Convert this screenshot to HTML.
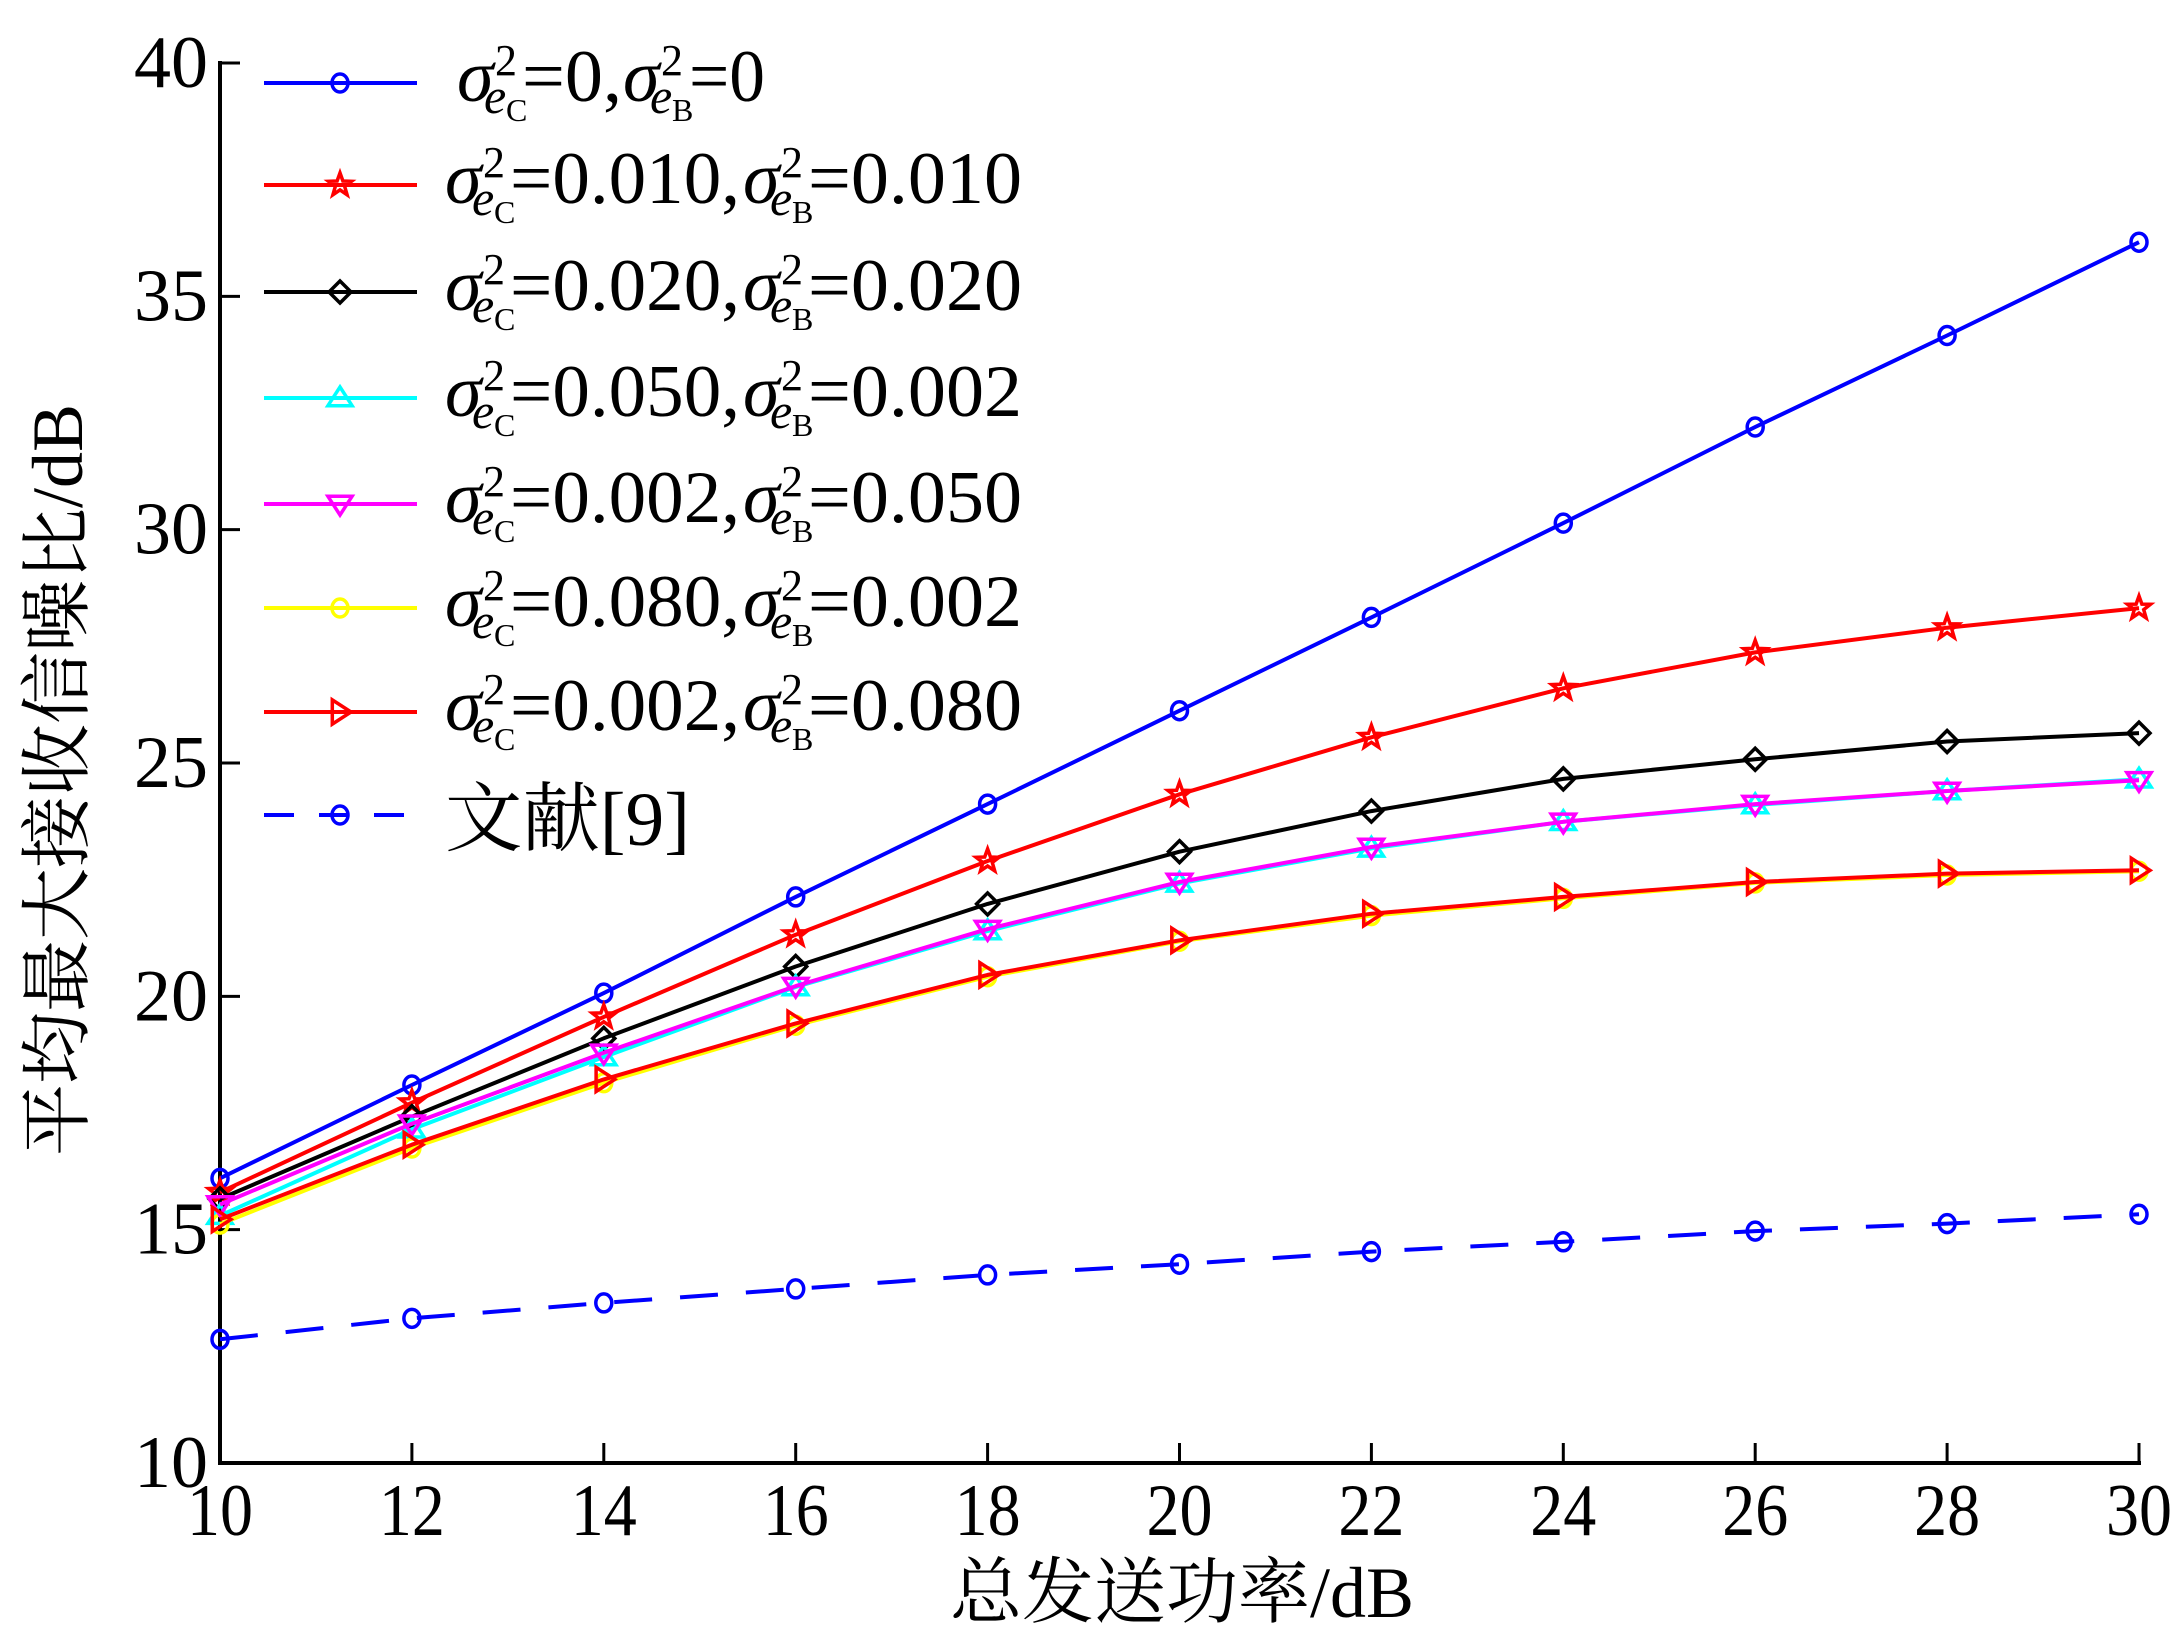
<!DOCTYPE html>
<html><head><meta charset="utf-8"><style>
html,body{margin:0;padding:0;background:#fff;}
svg{display:block;}
</style></head><body>
<svg id="chart" width="2180" height="1639" viewBox="0 0 2180 1639" xmlns="http://www.w3.org/2000/svg" font-family="'Liberation Serif', 'Times New Roman', 'Noto Serif CJK SC', serif"></svg>
<script>
const xValues=[10,12,14,16,18,20,22,24,26,28,30];
const xTicks=[10,12,14,16,18,20,22,24,26,28,30];
const yTicks=[10,15,20,25,30,35,40];
const sBlue=[16.1,18.1,20.07,22.13,24.12,26.12,28.12,30.14,32.2,34.16,36.16];
const sRedStar=[15.8,17.72,19.56,21.32,22.9,24.33,25.55,26.6,27.37,27.9,28.32];
const sBlack=[15.66,17.42,19.1,20.64,21.98,23.1,23.97,24.66,25.08,25.46,25.64];
const sCyan=[15.3,17.15,18.7,20.2,21.4,22.42,23.17,23.74,24.1,24.4,24.65];
const sMagenta=[15.54,17.27,18.79,20.22,21.44,22.45,23.2,23.74,24.12,24.4,24.63];
const sYellow=[15.12,16.75,18.15,19.38,20.42,21.18,21.73,22.1,22.43,22.6,22.68];
const sRedTri=[15.22,16.82,18.22,19.42,20.46,21.2,21.77,22.13,22.45,22.63,22.7];
const sRef=[12.65,13.1,13.43,13.73,14.03,14.26,14.53,14.74,14.97,15.13,15.33];

const NS='http://www.w3.org/2000/svg';
const svg=document.getElementById('chart');
const X0=220,X1=2139,Y0=1463,Y1=63;
const xs=v=>X0+(v-10)/(30-10)*(X1-X0);
const ys=v=>Y0-(v-10)/(40-10)*(Y0-Y1);
function el(tag,attrs,parent){const e=document.createElementNS(NS,tag);for(const k in attrs)e.setAttribute(k,attrs[k]);(parent||svg).appendChild(e);return e;}

const axes=el('g',{});


const yAxis=el('line',{x1:X0,y1:Y1-2,x2:X0,y2:Y0+2,stroke:'#000','stroke-width':4},axes);


const xAxis=el('line',{x1:X0-2,y1:Y0,x2:X1+2,y2:Y0,stroke:'#000','stroke-width':4},axes);


xTicks.forEach(t=>{
  const tk=el('line',{x1:xs(t),y1:Y0,x2:xs(t),y2:Y0-20,stroke:'#000','stroke-width':3},axes);
  
  
  const lb=el('text',{x:xs(t),y:Y0+72,'text-anchor':'middle','font-size':74,textLength:66,lengthAdjust:'spacingAndGlyphs'},axes);
  lb.textContent=t;
  
  
});
yTicks.forEach(t=>{
  const tk=el('line',{x1:X0,y1:ys(t),x2:X0+20,y2:ys(t),stroke:'#000','stroke-width':3},axes);
  
  
  const lb=el('text',{x:X0-12,y:ys(t)+24,'text-anchor':'end','font-size':74,textLength:74,lengthAdjust:'spacingAndGlyphs'},axes);
  lb.textContent=t;
  
  
});
const xt=el('text',{x:1182,y:1617,'text-anchor':'middle','font-size':72});
xt.textContent='总发送功率/dB';


const yt=el('text',{x:0,y:0,'text-anchor':'middle','font-size':72,transform:'translate(82,780) rotate(-90)'});
yt.textContent='平均最大接收信噪比/dB';



function marker(g,type,x,y,color){
  const r=11,a={fill:'none',stroke:color,'stroke-width':3.5};
  let m;
  if(type==='circle'){m=el('ellipse',Object.assign({cx:x,cy:y,rx:8,ry:9},a),g);}
  else if(type==='star'){let p=[];for(let i=0;i<10;i++){const rr=i%2?r*0.45:r*1.1;const an=-Math.PI/2+i*Math.PI/5;p.push((x+rr*Math.cos(an)).toFixed(1)+','+(y+rr*Math.sin(an)).toFixed(1));}m=el('polygon',Object.assign({points:p.join(' ')},a),g);}
  else if(type==='diamond'){m=el('polygon',Object.assign({points:`${x},${y-r} ${x+r},${y} ${x},${y+r} ${x-r},${y}`},a),g);}
  else if(type==='up'){m=el('polygon',Object.assign({points:`${x},${y-r} ${x+r*1.1},${y+r*0.7} ${x-r*1.1},${y+r*0.7}`},a),g);}
  else if(type==='down'){m=el('polygon',Object.assign({points:`${x},${y+r} ${x+r*1.1},${y-r*0.7} ${x-r*1.1},${y-r*0.7}`},a),g);}
  else if(type==='right'){m=el('polygon',Object.assign({points:`${x+r},${y} ${x-r*0.7},${y-r*1.1} ${x-r*0.7},${y+r*1.1}`},a),g);}
  
  
}
const series=[
 {name:'series-ideal',d:sBlue,c:'#0000ff',m:'circle',dash:null,l:['0','0']},
 {name:'series-010-010',d:sRedStar,c:'#ff0000',m:'star',dash:null,l:['0.010','0.010']},
 {name:'series-020-020',d:sBlack,c:'#000000',m:'diamond',dash:null,l:['0.020','0.020']},
 {name:'series-050-002',d:sCyan,c:'#00ffff',m:'up',dash:null,l:['0.050','0.002']},
 {name:'series-002-050',d:sMagenta,c:'#ff00ff',m:'down',dash:null,l:['0.002','0.050']},
 {name:'series-080-002',d:sYellow,c:'#ffff00',m:'circle',dash:null,l:['0.080','0.002']},
 {name:'series-002-080',d:sRedTri,c:'#ff0000',m:'right',dash:null,l:['0.002','0.080']},
 {name:'series-ref9',d:sRef,c:'#0000ff',m:'circle',dash:'38 28',l:null}
];
const drawOrder=[7,0,1,2,3,5,4,6];
drawOrder.forEach(i=>{
  const s=series[i];
  const g=el('g',{});
  
  
  const pts=s.d.map((v,j)=>xs(xValues[j]).toFixed(1)+','+ys(v).toFixed(1)).join(' ');
  const a={points:pts,fill:'none',stroke:s.c,'stroke-width':4,'stroke-linejoin':'round'};
  if(s.dash)a['stroke-dasharray']=s.dash;
  const pl=el('polyline',a,g);
  
  
  s.d.forEach((v,j)=>marker(g,s.m,xs(xValues[j]),ys(v),s.c));
});

const lg=el('g',{});


const rowY=[83,185,292,398,504,608,712,815];
function piece(g,txt,x,y,size,italic,len){
  const a={x:x,y:y,'font-size':size};
  if(italic)a['font-style']='italic';
  if(len){a.textLength=len;a.lengthAdjust='spacingAndGlyphs';}
  const t=el('text',a,g);t.textContent=txt;
  
  
  return t;
}
function sigma(g,x,b,sub){
  piece(g,'σ',x,b,74,true);
  piece(g,'2',x+38,b-26,44,false);
  piece(g,'e',x+27,b+12,50,true);
  piece(g,sub,x+49,b+20,32,false);
}
series.forEach((s,i)=>{
  const g=el('g',{},lg);
  
  
  const y=rowY[i];
  const a={x1:264,y1:y,x2:417,y2:y,stroke:s.c,'stroke-width':4};
  if(s.dash)a['stroke-dasharray']='30 25';
  const ln=el('line',a,g);
  
  
  marker(g,s.m,340,y,s.c);
  const b=y+18;
  if(!s.l){piece(g,'文献[9]',445,b+12,76,false,245);return;}
  if(i===0){
    sigma(g,457,b,'C');
    piece(g,'=0,',522,b,74,false,100);
    sigma(g,623,b,'B');
    piece(g,'=0',689,b,74,false,76);
  } else {
    sigma(g,445,b,'C');
    piece(g,'='+s.l[0]+',',510,b,74,false,230);
    sigma(g,743,b,'B');
    piece(g,'='+s.l[1],808,b,74,false,214);
  }
});
</script>
</body></html>
